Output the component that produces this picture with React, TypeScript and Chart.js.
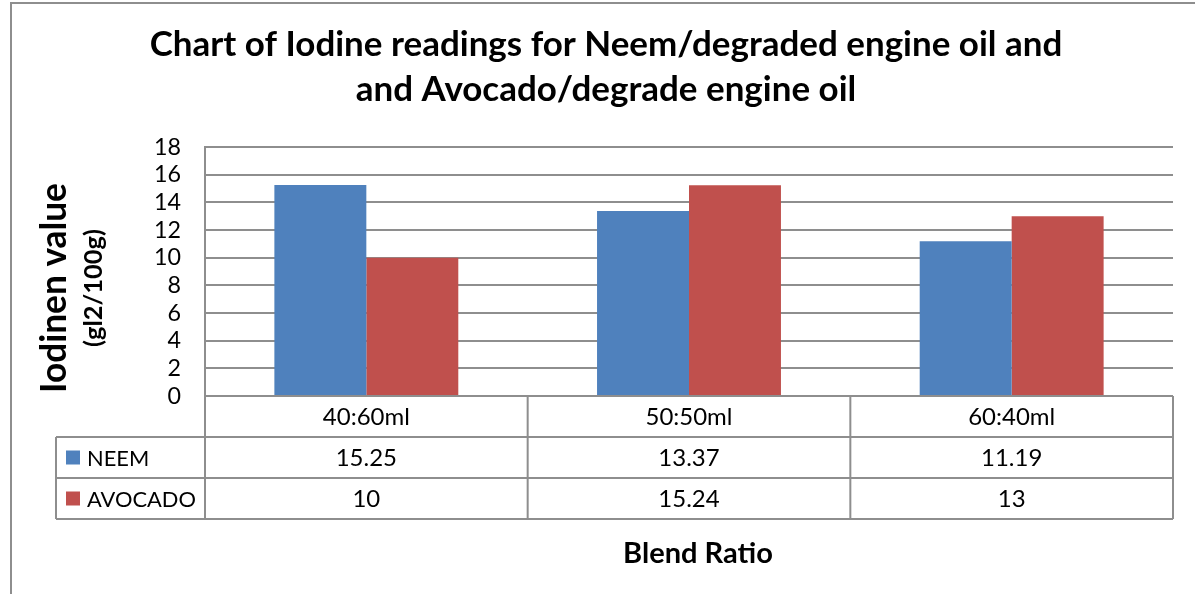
import React, { useEffect, useRef } from "react";
import { Chart, registerables } from "chart.js";

Chart.register(...registerables);

const categories = ["40:60ml", "50:50ml", "60:40ml"];
const seriesNames = ["NEEM", "AVOCADO"];
const neemValues = [15.25, 13.37, 11.19];
const avocadoValues = [10, 15.24, 13];
const seriesColors = ["#4F81BD", "#C0504D"];
const yMin = 0;
const yMax = 18;
const yStep = 2;
const titleLines = [
  "Chart of Iodine readings for Neem/degraded engine oil and",
  "and Avocado/degrade engine oil",
];
const yTitle = "Iodinen value";
const ySubTitle = "(gl2/100g)";
const xTitle = "Blend Ratio";

const FAMILY = "Lato, 'Noto Sans', sans-serif";
const LINE = "#8e8e8e";

function fitSize(text: string, width: number, weight: string) {
  const c = document.createElement("canvas").getContext("2d")!;
  c.font = `${weight} 100px ${FAMILY}`;
  return (100 * width) / c.measureText(text).width;
}

export default function App() {
  const ref = useRef<HTMLCanvasElement | null>(null);

  useEffect(() => {
    const canvas = ref.current!;
    const titleSize = fitSize(titleLines[0], 913, "bold");
    const tickSize = fitSize("18", 27, "normal");
    const tableSize = fitSize("40:60ml", 87, "normal");
    const legendSize = fitSize("AVOCADO", 109, "normal");
    const yTitleSize = fitSize(yTitle, 210, "bold");
    const ySubSize = fitSize(ySubTitle, 118, "bold");
    const xTitleSize = fitSize(xTitle, 150, "bold");

    const series = [neemValues, avocadoValues];

    const decor = {
      id: "decor",
      beforeDraw(chart: any) {
        const ctx = chart.ctx;
        ctx.save();
        ctx.fillStyle = "#ffffff";
        ctx.fillRect(0, 0, chart.width, chart.height);
        ctx.strokeStyle = LINE;
        ctx.lineWidth = 2;
        ctx.beginPath();
        ctx.moveTo(11, chart.height);
        ctx.lineTo(11, 3);
        ctx.lineTo(chart.width, 3);
        ctx.stroke();
        ctx.restore();
      },
      afterDraw(chart: any) {
        const ctx = chart.ctx;
        const area = chart.chartArea;
        const xs = chart.scales.x;
        const n = categories.length;
        const catW = (xs.right - xs.left) / n;
        const rowH = 41;
        const top = area.bottom;
        const tableLeft = area.left - 149;
        ctx.save();
        // titles
        ctx.fillStyle = "#000";
        ctx.textAlign = "center";
        ctx.textBaseline = "alphabetic";
        ctx.font = `bold ${titleSize}px ${FAMILY}`;
        ctx.fillText(titleLines[0], 606, 56);
        ctx.fillText(titleLines[1], 606, 101);
        ctx.font = `bold ${xTitleSize}px ${FAMILY}`;
        ctx.fillText(xTitle, 698, 563);
        ctx.save();
        ctx.translate(66, 288);
        ctx.rotate(-Math.PI / 2);
        ctx.font = `bold ${yTitleSize}px ${FAMILY}`;
        ctx.fillText(yTitle, 0, 0);
        ctx.restore();
        ctx.save();
        ctx.translate(102, 288);
        ctx.rotate(-Math.PI / 2);
        ctx.font = `bold ${ySubSize}px ${FAMILY}`;
        ctx.fillText(ySubTitle, 0, 0);
        ctx.restore();

        // table grid
        ctx.strokeStyle = LINE;
        ctx.lineWidth = 2;
        ctx.beginPath();
        ctx.moveTo(area.left, top);
        ctx.lineTo(xs.right, top);
        for (let r = 1; r <= series.length + 1; r++) {
          ctx.moveTo(tableLeft, top + r * rowH);
          ctx.lineTo(xs.right, top + r * rowH);
        }
        for (let i = 0; i <= n; i++) {
          const x = xs.left + i * catW;
          ctx.moveTo(x, top);
          ctx.lineTo(x, top + (series.length + 1) * rowH);
        }
        ctx.moveTo(tableLeft, top + rowH);
        ctx.lineTo(tableLeft, top + (series.length + 1) * rowH);
        ctx.stroke();

        // table text
        ctx.font = `${tableSize}px ${FAMILY}`;
        ctx.fillStyle = "#000";
        ctx.textAlign = "center";
        for (let i = 0; i < n; i++) {
          const cx = xs.getPixelForValue(i);
          ctx.fillText(categories[i], cx, top + rowH / 2 + 8);
          for (let s = 0; s < series.length; s++) {
            ctx.fillText(String(series[s][i]), cx, top + (s + 1) * rowH + rowH / 2 + 8);
          }
        }
        ctx.textAlign = "left";
        ctx.font = `${legendSize}px ${FAMILY}`;
        for (let s = 0; s < series.length; s++) {
          const cy = top + (s + 1) * rowH + rowH / 2;
          ctx.fillStyle = seriesColors[s];
          ctx.fillRect(tableLeft + 10, cy - 7, 14, 14);
          ctx.fillStyle = "#000";
          ctx.fillText(seriesNames[s], tableLeft + 31, cy + 8);
        }
        ctx.restore();
      },
    };

    const chart = new Chart(canvas, {
      type: "bar",
      data: {
        labels: categories,
        datasets: [
          {
            label: seriesNames[0],
            data: neemValues,
            backgroundColor: seriesColors[0],
            borderWidth: 0,
            categoryPercentage: 0.57,
            barPercentage: 1,
          },
          {
            label: seriesNames[1],
            data: avocadoValues,
            backgroundColor: seriesColors[1],
            borderWidth: 0,
            categoryPercentage: 0.57,
            barPercentage: 1,
          },
        ],
      },
      options: {
        responsive: false,
        animation: false,
        devicePixelRatio: 1,
        layout: { padding: { left: 0, top: 147, right: 22, bottom: 198 } },
        plugins: {
          legend: { display: false },
          title: { display: false },
          tooltip: { enabled: false },
        },
        scales: {
          x: { display: false },
          y: {
            min: yMin,
            max: yMax,
            ticks: {
              stepSize: yStep,
              autoSkip: false,
              color: "#000",
              padding: 24,
              font: { family: FAMILY, size: tickSize, lineHeight: 1 },
            },
            grid: { color: LINE, lineWidth: 2, drawTicks: false },
            border: { display: true, color: LINE, width: 2 },
            afterFit(scale: any) {
              scale.width = 205;
            },
          },
        },
      },
      plugins: [decor],
    });
    return () => chart.destroy();
  }, []);

  return (
    <div style={{ position: "fixed", left: 0, top: 0, width: 1195, height: 594, background: "#fff" }}>
      <canvas ref={ref} width={1195} height={594} style={{ display: "block", width: 1195, height: 594 }} />
    </div>
  );
}
